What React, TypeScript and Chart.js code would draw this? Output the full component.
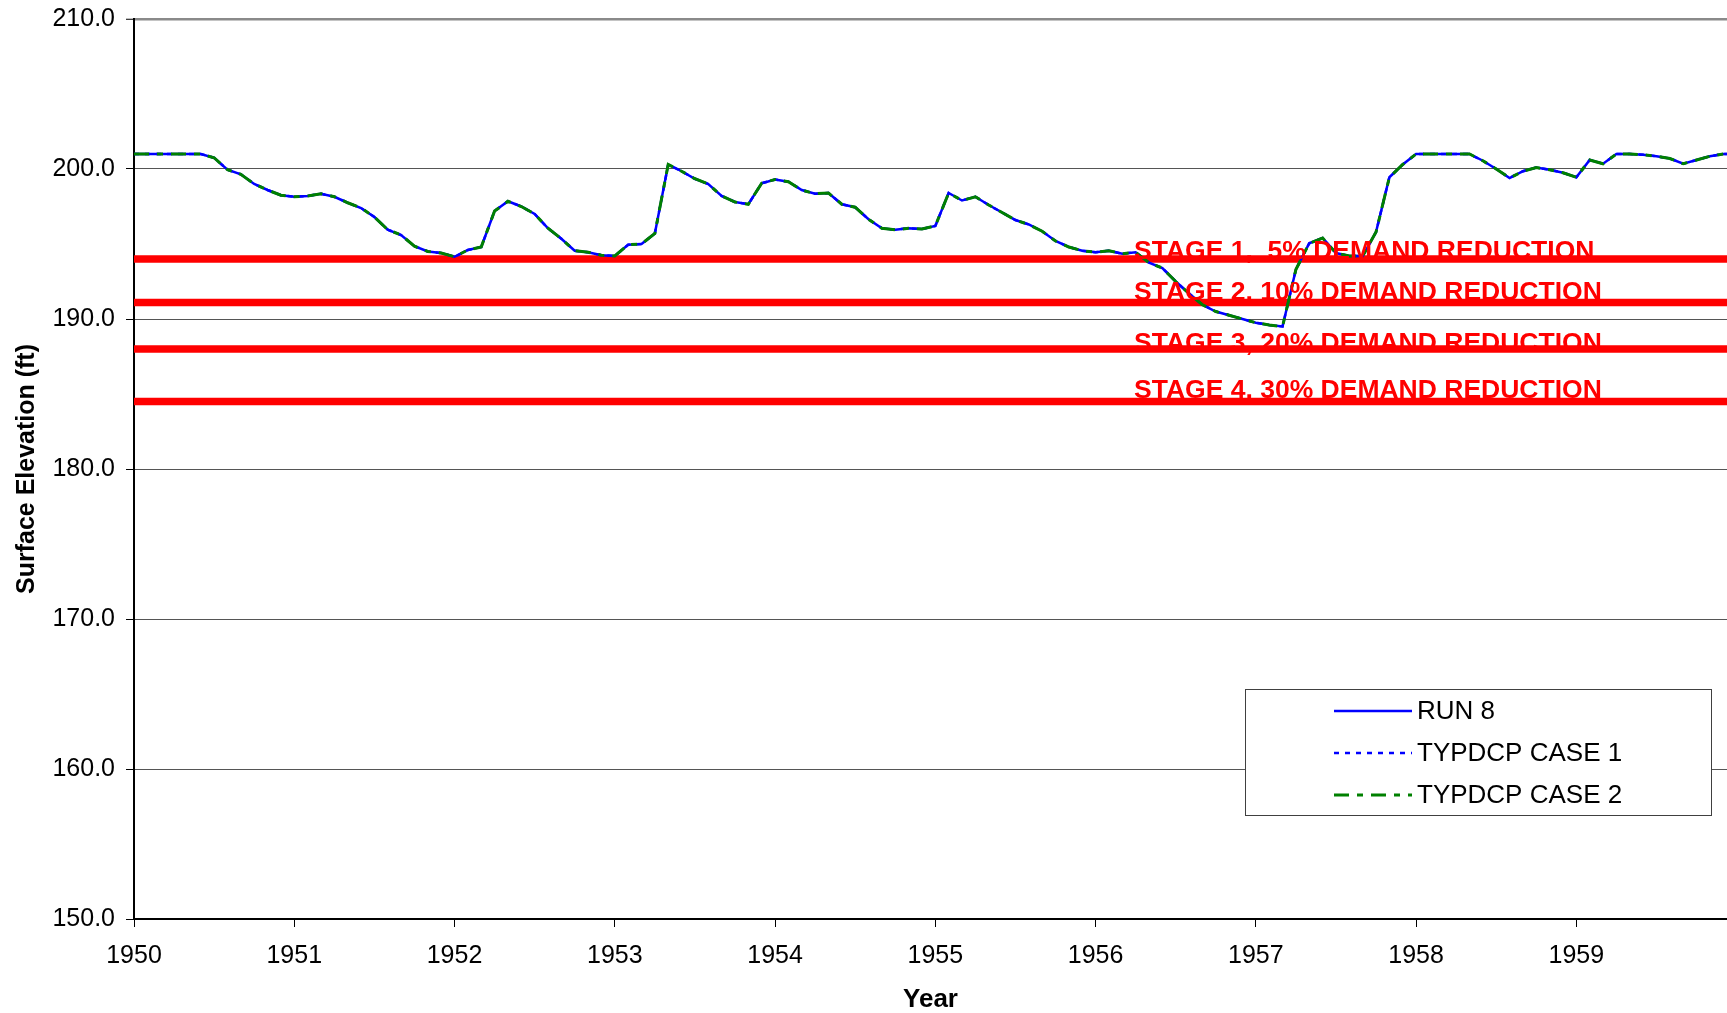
import React, { useEffect, useRef } from "react";
import { Chart, registerables } from "chart.js";

Chart.register(...registerables);

const START_YEAR = 1950;
const X_MAX = 1959.94;

// Monthly surface elevations (ft), Jan 1950 onward
const run8 = [
  201.0, 201.0, 201.0, 201.0, 201.0, 201.0, 200.75, 199.95, 199.65, 199.0, 198.6, 198.25,
  198.15, 198.2, 198.35, 198.15, 197.75, 197.4, 196.8, 195.95, 195.6, 194.85, 194.5, 194.4,
  194.15, 194.6, 194.8, 197.2, 197.85, 197.5, 197.0, 196.05, 195.35, 194.55, 194.45, 194.25,
  194.2, 194.95, 195.0, 195.7, 200.3, 199.85, 199.35, 199.0, 198.2, 197.8, 197.65, 199.05,
  199.3, 199.15, 198.6, 198.35, 198.4, 197.65, 197.45, 196.65, 196.05, 195.95, 196.05, 196.0,
  196.2, 198.4, 197.9, 198.15, 197.6, 197.1, 196.6, 196.3, 195.85, 195.2, 194.8, 194.55,
  194.45, 194.55, 194.35, 194.45, 193.75, 193.4, 192.5, 191.7, 190.95, 190.5, 190.25, 190.0,
  189.75, 189.6, 189.5, 193.3, 195.05, 195.4, 194.4, 194.2, 194.2, 195.8, 199.45, 200.3,
  201.0, 201.0, 201.0, 201.0, 201.0, 200.55, 200.0, 199.4, 199.85, 200.1, 199.95, 199.75,
  199.45, 200.6, 200.35, 201.0, 201.0, 200.95, 200.85, 200.7, 200.35, 200.6, 200.85, 201.0,
  201.0,
];

const typdcpCase1 = [
  201.0, 201.0, 201.0, 201.0, 201.0, 201.0, 200.75, 199.95, 199.65, 199.0, 198.6, 198.25,
  198.15, 198.2, 198.35, 198.15, 197.75, 197.4, 196.8, 195.95, 195.6, 194.85, 194.5, 194.4,
  194.15, 194.6, 194.8, 197.2, 197.85, 197.5, 197.0, 196.05, 195.35, 194.55, 194.45, 194.25,
  194.2, 194.95, 195.0, 195.7, 200.3, 199.85, 199.35, 199.0, 198.2, 197.8, 197.65, 199.05,
  199.3, 199.15, 198.6, 198.35, 198.4, 197.65, 197.45, 196.65, 196.05, 195.95, 196.05, 196.0,
  196.2, 198.4, 197.9, 198.15, 197.6, 197.1, 196.6, 196.3, 195.85, 195.2, 194.8, 194.55,
  194.45, 194.55, 194.35, 194.45, 193.75, 193.4, 192.5, 191.7, 190.95, 190.5, 190.25, 190.0,
  189.75, 189.6, 189.5, 193.3, 195.05, 195.4, 194.4, 194.2, 194.2, 195.8, 199.45, 200.3,
  201.0, 201.0, 201.0, 201.0, 201.0, 200.55, 200.0, 199.4, 199.85, 200.1, 199.95, 199.75,
  199.45, 200.6, 200.35, 201.0, 201.0, 200.95, 200.85, 200.7, 200.35, 200.6, 200.85, 201.0,
  201.0,
];

const typdcpCase2 = [
  201.0, 201.0, 201.0, 201.0, 201.0, 201.0, 200.75, 199.95, 199.65, 199.0, 198.6, 198.25,
  198.15, 198.2, 198.35, 198.15, 197.75, 197.4, 196.8, 195.95, 195.6, 194.85, 194.5, 194.4,
  194.15, 194.6, 194.8, 197.2, 197.85, 197.5, 197.0, 196.05, 195.35, 194.55, 194.45, 194.25,
  194.2, 194.95, 195.0, 195.7, 200.3, 199.85, 199.35, 199.0, 198.2, 197.8, 197.65, 199.05,
  199.3, 199.15, 198.6, 198.35, 198.4, 197.65, 197.45, 196.65, 196.05, 195.95, 196.05, 196.0,
  196.2, 198.4, 197.9, 198.15, 197.6, 197.1, 196.6, 196.3, 195.85, 195.2, 194.8, 194.55,
  194.45, 194.55, 194.35, 194.45, 193.75, 193.4, 192.5, 191.7, 190.95, 190.5, 190.25, 190.0,
  189.75, 189.6, 189.5, 193.3, 195.05, 195.4, 194.4, 194.2, 194.2, 195.8, 199.45, 200.3,
  201.0, 201.0, 201.0, 201.0, 201.0, 200.55, 200.0, 199.4, 199.85, 200.1, 199.95, 199.75,
  199.45, 200.6, 200.35, 201.0, 201.0, 200.95, 200.85, 200.7, 200.35, 200.6, 200.85, 201.0,
  201.0,
];

const seriesNames = ["RUN 8", "TYPDCP CASE 1", "TYPDCP CASE 2"];

const stageLevels = [194.0, 191.1, 188.0, 184.5];
const stageLabels = [
  "STAGE 1,  5% DEMAND REDUCTION",
  "STAGE 2, 10% DEMAND REDUCTION",
  "STAGE 3, 20% DEMAND REDUCTION",
  "STAGE 4, 30% DEMAND REDUCTION",
];
const stageLabelStartYear = 1956.24;

const yMin = 150;
const yMax = 210;
const yStep = 10;
const xTickYears = [1950, 1951, 1952, 1953, 1954, 1955, 1956, 1957, 1958, 1959];

const FONT = "'Liberation Sans', Arial, Helvetica, sans-serif";

const toPoints = (vals: number[]) =>
  vals.map((v, i) => ({ x: START_YEAR + i / 12, y: v }));

const stageTextPlugin = {
  id: "stageText",
  afterDatasetsDraw(chart: any) {
    const { ctx, scales } = chart;
    const offsets = [0, -2.5, 2.3, -4];
    ctx.save();
    ctx.font = `bold 26.5px ${FONT}`;
    ctx.fillStyle = "#FF0000";
    ctx.textAlign = "left";
    ctx.textBaseline = "alphabetic";
    const x = scales.x.getPixelForValue(stageLabelStartYear);
    stageLevels.forEach((lv, i) => {
      const y = scales.y.getPixelForValue(lv) + offsets[i];
      ctx.fillText(stageLabels[i], x, y);
    });
    ctx.restore();
  },
};

const boxLegendPlugin = {
  id: "boxLegend",
  afterDraw(chart: any) {
    const { ctx } = chart;
    const left = 1245;
    const top = 689;
    const w = 466;
    const h = 126;
    ctx.save();
    ctx.fillStyle = "#FFFFFF";
    ctx.fillRect(left, top, w, h);
    ctx.strokeStyle = "#404040";
    ctx.lineWidth = 1;
    ctx.strokeRect(left + 0.5, top + 0.5, w, h);
    const rowsY = [711, 753, 795];
    const ds = chart.data.datasets.slice(0, 3);
    ds.forEach((d: any, i: number) => {
      const y = rowsY[i];
      ctx.beginPath();
      ctx.setLineDash(d.borderDash || []);
      ctx.strokeStyle = d.borderColor;
      ctx.lineWidth = d.borderWidth;
      ctx.moveTo(1334, y);
      ctx.lineTo(1412, y);
      ctx.stroke();
      ctx.setLineDash([]);
      ctx.fillStyle = "#000";
      ctx.font = `26px ${FONT}`;
      ctx.textAlign = "left";
      ctx.textBaseline = "middle";
      ctx.fillText(d.label, 1417, y + 1);
    });
    ctx.restore();
  },
};

export default function App() {
  const canvasRef = useRef<HTMLCanvasElement | null>(null);

  useEffect(() => {
    if (!canvasRef.current) return;
    Chart.defaults.font.family = FONT;
    Chart.defaults.color = "#000";

    const stageDatasets = stageLevels.map((lv, i) => ({
      label: stageLabels[i],
      data: [
        { x: START_YEAR, y: lv },
        { x: 1960.5, y: lv },
      ],
      borderColor: "#FF0000",
      borderWidth: 7.5,
      pointRadius: 0,
      fill: false,
      order: 10,
    }));

    const chart = new Chart(canvasRef.current, {
      type: "line",
      data: {
        datasets: [
          {
            label: seriesNames[0],
            data: toPoints(run8),
            borderColor: "#0000FF",
            borderWidth: 2.5,
            pointRadius: 0,
            fill: false,
            tension: 0,
            order: 3,
          },
          {
            label: seriesNames[1],
            data: toPoints(typdcpCase1),
            borderColor: "#0000FF",
            borderWidth: 2.5,
            borderDash: [5, 6],
            pointRadius: 0,
            fill: false,
            tension: 0,
            order: 2,
          },
          {
            label: seriesNames[2],
            data: toPoints(typdcpCase2),
            borderColor: "#008000",
            borderWidth: 3,
            borderDash: [15, 8, 6, 8],
            pointRadius: 0,
            fill: false,
            tension: 0,
            order: 1,
          },
          ...stageDatasets,
        ] as any,
      },
      options: {
        responsive: false,
        animation: false,
        devicePixelRatio: 1,
        layout: { padding: { top: 19, right: 0, bottom: 0, left: 0 } },
        plugins: {
          legend: { display: false },
          tooltip: { enabled: false },
        },
        scales: {
          x: {
            type: "linear",
            min: START_YEAR,
            max: X_MAX,
            afterBuildTicks: (scale: any) => {
              scale.ticks = xTickYears.map((v) => ({ value: v }));
            },
            afterFit: (scale: any) => {
              scale.height = 94;
              scale.paddingLeft = 0;
              scale.paddingRight = 0;
            },
            ticks: {
              autoSkip: false,
              maxRotation: 0,
              padding: 14,
              font: { size: 25 },
              color: "#000",
              callback: (v: any) => String(v),
            },
            grid: {
              drawOnChartArea: false,
              drawTicks: true,
              tickLength: 8,
              tickColor: "#000",
              tickWidth: 1,
            },
            border: { display: true, color: "#000", width: 2 },
            title: {
              display: true,
              text: "Year",
              font: { size: 26, weight: "bold", lineHeight: 1.05 },
              color: "#000",
              padding: { top: 0, bottom: 0 },
            },
          },
          y: {
            type: "linear",
            min: yMin,
            max: yMax,
            ticks: {
              stepSize: yStep,
              padding: 11,
              font: { size: 25 },
              color: "#000",
              callback: (v: any) => Number(v).toFixed(1),
            },
            afterFit: (scale: any) => {
              scale.width = 134;
              scale.paddingTop = 0;
              scale.paddingBottom = 0;
            },
            grid: {
              color: (c: any) => (c.tick && c.tick.value === yMax ? "#8a8a8a" : "#555555"),
              lineWidth: (c: any) => (c.tick && c.tick.value === yMax ? 2.5 : 1),
              drawTicks: true,
              tickLength: 8,
              tickColor: "#000",
              tickWidth: 1,
            },
            border: { display: true, color: "#000", width: 2 },
            title: {
              display: true,
              text: "Surface Elevation (ft)",
              font: { size: 25, weight: "bold" },
              color: "#000",
              padding: { top: 12, bottom: 0 },
            },
          },
        },
      },
      plugins: [stageTextPlugin, boxLegendPlugin],
    });

    return () => chart.destroy();
  }, []);

  return (
    <div
      style={{
        position: "fixed",
        left: 0,
        top: 0,
        width: 1727,
        height: 1013,
        background: "#fff",
      }}
    >
      <canvas ref={canvasRef} width={1727} height={1013} style={{ display: "block" }} />
    </div>
  );
}
